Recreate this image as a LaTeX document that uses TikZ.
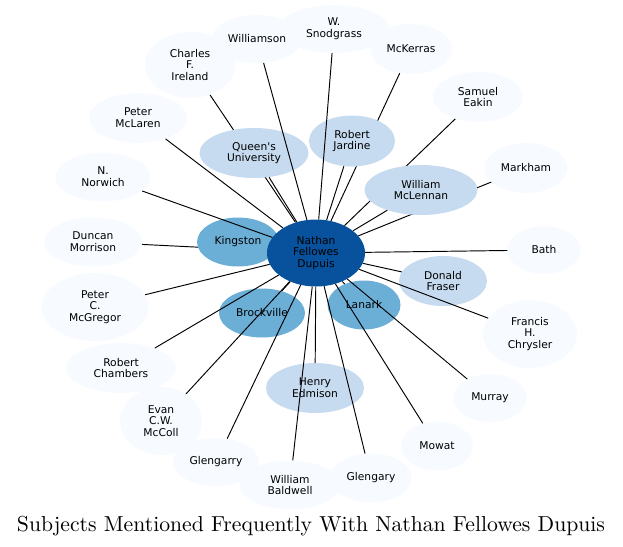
\documentclass[tikz,border=0pt]{standalone}
\usepackage{fontspec}
\newfontfamily\labfont{DejaVu Sans}
\usetikzlibrary{shapes.geometric}
\pgfdeclarelayer{bg}
\pgfdeclarelayer{fg}
\pgfsetlayers{bg,main,fg}
\definecolor{blA}{HTML}{F7FBFF}
\definecolor{blB}{HTML}{C6DBEF}
\definecolor{blC}{HTML}{6BAED6}
\definecolor{blD}{HTML}{08519C}
\tikzset{
  ent/.style={ellipse, draw=none, inner sep=0pt, align=center,
    font=\labfont\fontsize{10.7}{11.7}\selectfont, text=black},
  pnode/.style={ent, fill=blA},
  lnode/.style={ent, fill=blB},
  mnode/.style={ent, fill=blC},
  cnode/.style={ent, fill=blD},
  edge/.style={draw=black, line width=0.95pt},
  wh/.style 2 args={minimum width=#1pt, minimum height=#2pt},
}
\begin{document}
\begin{tikzpicture}[x=1pt,y=-1pt]
\useasboundingbox (0,0) rectangle (623,546);
% peripheral nodes
\node[pnode,wh={110}{48}] (sno) at (334,29)  {W.\\Snodgrass};
\node[pnode,wh={90}{66}]  (cfi) at (190,65)  {Charles\\F.\\Ireland};
\node[pnode,wh={90}{48}]  (wil) at (257,39)  {Williamson};
\node[pnode,wh={82}{50}]  (mck) at (411,49)  {McKerras};
\node[pnode,wh={90}{50}]  (eak) at (478,97)  {Samuel\\Eakin};
\node[pnode,wh={83}{50}]  (mar) at (526,168) {Markham};
\node[pnode,wh={73}{48}]  (bath) at (544,250) {Bath};
\node[pnode,wh={94}{68}]  (chr) at (530,334) {Francis\\H.\\Chrysler};
\node[pnode,wh={73}{48}]  (mur) at (490,398) {Murray};
\node[pnode,wh={72}{49}]  (mow) at (437,446) {Mowat};
\node[pnode,wh={100}{49}] (bal) at (290,485) {William\\Baldwell};
\node[pnode,wh={82}{49}]  (gly) at (371,478) {Glengary};
\node[pnode,wh={86}{48}]  (glr) at (216,462) {Glengarry};
\node[pnode,wh={110}{50}] (cha) at (121,368) {Robert\\Chambers};
\node[pnode,wh={82}{68}]  (mcc) at (161,421) {Evan\\C.W.\\McColl};
\node[pnode,wh={107}{68}] (mcg) at (95,307)  {Peter\\C.\\McGregor};
\node[pnode,wh={98}{49}]  (dun) at (93,242)  {Duncan\\Morrison};
\node[pnode,wh={95}{49}]  (nor) at (103,177) {N.\\Norwich};
\node[pnode,wh={98}{50}]  (mcl) at (138,118) {Peter\\McLaren};
% light-medium nodes
\node[lnode,wh={109}{50}] (que) at (254,153) {Queen\textquotesingle s\\University};
\node[lnode,wh={86}{51}]  (jar) at (352,141) {Robert\\Jardine};
\node[lnode,wh={113}{50}] (mcle) at (421,190) {William\\McLennan};
\node[lnode,wh={88}{50}]  (fra) at (443,281) {Donald\\Fraser};
\node[lnode,wh={98}{50}]  (edm) at (315,388) {Henry\\Edmison};
% medium nodes
\node[mnode,wh={82}{49}]  (kin) at (238,242) {Kingston};
\node[mnode,wh={86}{49}]  (bro) at (262,313) {Brockville};
\node[mnode,wh={73}{49}]  (lan) at (364,305) {Lanark};
% centre
\node[cnode,wh={98}{67}]  (c) at (316,253) {Nathan\\Fellowes\\Dupuis};
% edges hidden behind nodes
\begin{pgfonlayer}{bg}
\foreach \n in {cfi,mck,eak,mar,dun,kin} \draw[edge] (c) -- (\n);
\end{pgfonlayer}
% edges drawn over nodes
\begin{pgfonlayer}{fg}
\foreach \n in {wil,sno,bath,chr,mur,mow,gly,bal,glr,mcc,cha,mcg,nor,mcl,que,jar,mcle,fra,edm,bro,lan}
  \draw[edge] (c) -- (\n);
\end{pgfonlayer}
% title
\node[anchor=base, inner sep=0pt] (title) at (311,531)
  {\resizebox{588pt}{!}{Subjects Mentioned Frequently With Nathan Fellowes Dupuis}};
\end{tikzpicture}
\end{document}
